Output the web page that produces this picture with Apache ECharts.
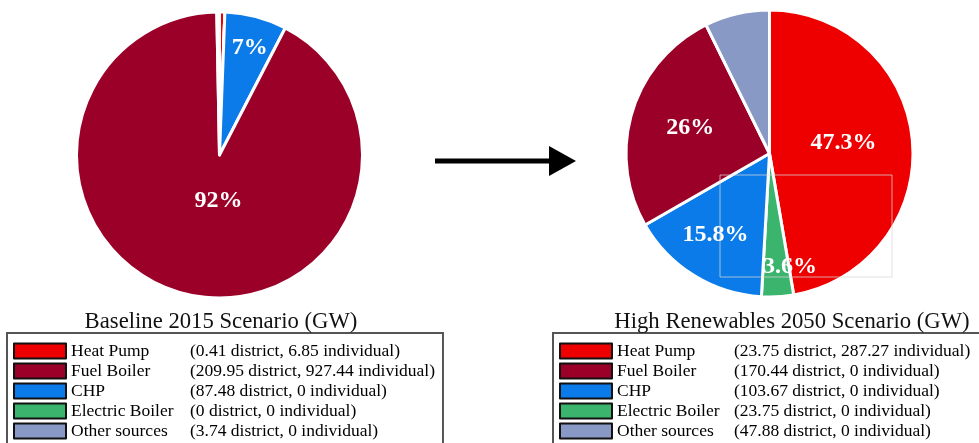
<!DOCTYPE html>
<html>
<head>
<meta charset="utf-8">
<script src="https://cdn.jsdelivr.net/npm/echarts@6/dist/echarts.min.js"></script>
<style>
  html, body { margin: 0; padding: 0; background: #fff; }
  #chart { width: 979px; height: 443px; }
</style>
</head>
<body>
<div id="chart"></div>
<script>
// Heat supply mix by technology (legend order)
const categories = ['Heat Pump', 'Fuel Boiler', 'CHP', 'Electric Boiler', 'Other sources'];

// Installed capacity, GW
const baselineDistrict = [0.41, 209.95, 87.48, 0, 3.74];
const baselineIndividual = [6.85, 927.44, 0, 0, 0];
const highDistrict = [23.75, 170.44, 103.67, 23.75, 47.88];
const highIndividual = [287.27, 0, 0, 0, 0];

// Share of total capacity, %
const baselineShare = [0.6, 92, 7, 0, 0.3];
const highShare = [47.3, 26, 15.8, 3.6, 7.3];

// Slice labels
const baselineLabel = ['', '92%', '7%', '', ''];
const highLabel = ['47.3%', '26%', '15.8%', '3.6%', ''];

// Clockwise slice order starting at 12 o'clock (indices into categories)
const sliceOrder = [0, 3, 2, 1, 4];

const colors = {
  'Heat Pump': '#ef0000',
  'Fuel Boiler': '#9b0029',
  'CHP': '#0a7be8',
  'Electric Boiler': '#3bb56e',
  'Other sources': '#8799c4'
};

const SERIF = '"Liberation Serif", "Times New Roman", serif';

// Pie geometry and label placement (radius fraction, angular nudge in degrees)
const pies = [
  { cx: 219.5, cy: 155, r: 143,
    labelPos: { 'Fuel Boiler': [0.32, -12], 'CHP': [0.78, 1] } },
  { cx: 769.5, cy: 153.5, r: 143.5,
    labelPos: { 'Heat Pump': [0.52, -3], 'Electric Boiler': [0.8, -7], 'CHP': [0.68, 2], 'Fuel Boiler': [0.58, 1] } }
];

function pieData(share, labels) {
  return sliceOrder.map(i => ({
    name: categories[i],
    value: share[i],
    itemStyle: { color: colors[categories[i]] },
    label: { show: labels[i] !== '', formatter: labels[i] }
  }));
}

function labelPlacer(pieIdx, share) {
  const p = pies[pieIdx];
  const total = share.reduce((a, b) => a + b, 0);
  const mid = {};
  let acc = 0;
  sliceOrder.forEach(i => {
    mid[categories[i]] = (acc + share[i] / 2) / total * 360;
    acc += share[i];
  });
  return function (params) {
    const name = categories[sliceOrder[params.dataIndex]];
    const pos = p.labelPos[name];
    if (!pos) return {};
    const th = (mid[name] + pos[1]) * Math.PI / 180;
    return {
      x: p.cx + pos[0] * p.r * Math.sin(th),
      y: p.cy - pos[0] * p.r * Math.cos(th),
      align: 'center',
      verticalAlign: 'middle'
    };
  };
}

function valueText(district, individual) {
  return categories.reduce((m, c, i) => {
    m[c] = '(' + district[i] + ' district, ' + individual[i] + ' individual)';
    return m;
  }, {});
}
const baselineText = valueText(baselineDistrict, baselineIndividual);
const highText = valueText(highDistrict, highIndividual);

const LEGEND_FONT = 17.5;

function legendFor(left, nameWidth, texts, padRight) {
  const txt = { fontFamily: SERIF, fontSize: LEGEND_FONT, color: '#000', lineHeight: 16 };
  return {
    orient: 'vertical',
    left: left,
    top: 333,
    height: 140,
    data: categories,
    icon: 'rect',
    itemWidth: 52,
    itemHeight: 15,
    itemGap: 2,
    selectedMode: false,
    padding: [9, padRight, 20, 6],
    borderColor: '#555',
    borderWidth: 2,
    backgroundColor: '#fff',
    itemStyle: { borderColor: '#111', borderWidth: 2 },
    textStyle: Object.assign({}, txt, {
      rich: { n: Object.assign({ width: nameWidth }, txt), v: Object.assign({}, txt) }
    }),
    formatter: name => '{n|' + name + '}{v|' + texts[name] + '}'
  };
}

function pieSeries(idx, share, labels) {
  const p = pies[idx];
  return {
    type: 'pie',
    center: [p.cx, p.cy],
    radius: p.r,
    startAngle: 90,
    clockwise: true,
    silent: true,
    data: pieData(share, labels),
    itemStyle: { borderColor: '#fff', borderWidth: 3 },
    label: {
      position: 'inside',
      color: '#fff',
      fontFamily: SERIF,
      fontWeight: 'bold',
      fontSize: 24
    },
    labelLine: { show: false },
    labelLayout: labelPlacer(idx, share)
  };
}

const titleStyle = { fontFamily: SERIF, fontSize: 22.7, fontWeight: 'normal', color: '#111' };

const chart = echarts.init(document.getElementById('chart'), null, { renderer: 'canvas' });
chart.setOption({
  animation: false,
  backgroundColor: '#fff',
  title: [
    { text: 'Baseline 2015 Scenario (GW)', left: 216, top: 306, textAlign: 'center', textStyle: titleStyle },
    { text: 'High Renewables 2050 Scenario (GW)', left: 787, top: 306, textAlign: 'center', textStyle: titleStyle }
  ],
  legend: [
    legendFor(7, 119, baselineText, 8),
    legendFor(553, 117, highText, 16)
  ],
  series: [
    pieSeries(0, baselineShare, baselineLabel),
    pieSeries(1, highShare, highLabel)
  ],
  graphic: [
    { type: 'line', shape: { x1: 435, y1: 161, x2: 553, y2: 161 },
      style: { stroke: '#000', lineWidth: 5 } },
    { type: 'polygon', shape: { points: [[549, 146], [576, 161], [549, 176]] },
      style: { fill: '#000' } },
    { type: 'rect', shape: { x: 720, y: 175, width: 172, height: 102 },
      style: { fill: 'none', stroke: 'rgba(215,215,215,0.75)', lineWidth: 1 }, z: 100 }
  ]
});
</script>
</body>
</html>
